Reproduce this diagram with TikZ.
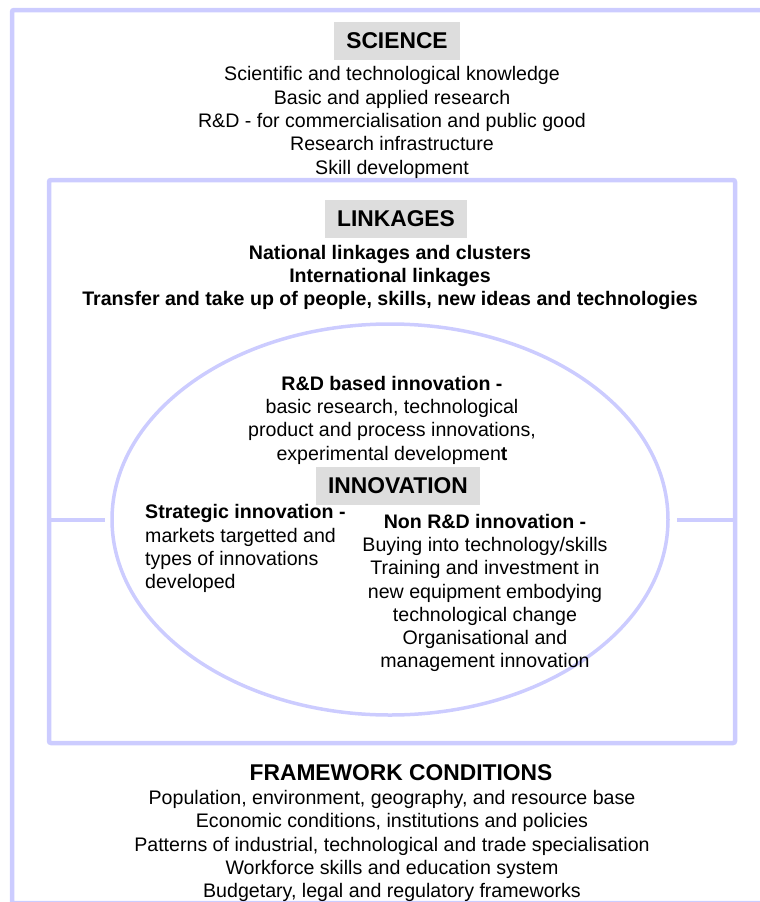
\documentclass[tikz,border=0pt]{standalone}
\usepackage{fontspec}
\setmainfont{Liberation Sans}
\usetikzlibrary{shapes.geometric}
\definecolor{framecol}{RGB}{204,204,255}
\definecolor{hdrgray}{RGB}{221,221,221}
\newcommand\bodyfont{\fontsize{19.6}{23.3}\selectfont}
\newcommand\hdrfont{\fontsize{22.8}{26}\selectfont\bfseries}
\tikzset{
  frameline/.style={draw=framecol, line width=4.5pt, rounded corners=2pt, inner sep=0pt, outer sep=0pt},
  hdrbox/.style={fill=hdrgray, font=\hdrfont, inner xsep=12pt, inner ysep=0pt, minimum height=38pt},
  body/.style={font=\bodyfont, align=center, inner sep=0pt},
  bodybold/.style={font=\bodyfont\bfseries, align=center, inner sep=0pt},
  link/.style={draw=framecol, line width=4pt},
}
\begin{document}
\begin{tikzpicture}[x=1pt,y=-1pt]
\useasboundingbox (0,0) rectangle (760,902);
\clip (0,0) rectangle (760,902);
% frames
\node[frameline, minimum width=753pt, minimum height=893pt] (outer) at (388.5,456.5) {};
\node[frameline, minimum width=686pt, minimum height=563pt] (linkbox) at (392,461.5) {};
\node[draw=framecol, line width=3.5pt, ellipse, minimum width=556pt, minimum height=391pt, inner sep=0pt, outer sep=0pt] (ell) at (390,519.5) {};
% connectors
\draw[link] (linkbox.west |- ell.west) -- ([xshift=-7pt]ell.west);
\draw[link] ([xshift=9pt]ell.east) -- (linkbox.east |- ell.east);
% science
\node[hdrbox] (sci) at (397,41) {SCIENCE};
\node[body] (scitext) at (392,122.5) {Scientific and technological knowledge\\Basic and applied research\\R\&D - for commercialisation and public good\\Research infrastructure\\Skill development};
% linkages
\node[hdrbox] (lnk) at (396,219) {LINKAGES};
\node[bodybold] (lnktext) at (390,277.5) {National linkages and clusters\\International linkages\\Transfer and take up of people, skills, new ideas and technologies};
% innovation
\node[body] (rdtext) at (392,420) {\textbf{R\&D based innovation -}\\basic research, technological\\product and process innovations,\\experimental developmen\textbf{t}};
\node[hdrbox] (inn) at (398,485.5) {INNOVATION};
\node[body, align=left, anchor=west] (strat) at (145,548.75) {\textbf{Strategic innovation -}\\markets targetted and\\types of innovations\\developed};
\node[body] (nonrd) at (485,593) {\textbf{Non R\&D innovation -}\\Buying into technology/skills\\Training and investment in\\new equipment embodying\\technological change\\Organisational and\\management innovation};
% framework
\node[font=\hdrfont, inner sep=0pt] (fw) at (401,773) {FRAMEWORK CONDITIONS};
\node[body] (fwtext) at (392,846) {Population, environment, geography, and resource base\\Economic conditions, institutions and policies\\Patterns of industrial, technological and trade specialisation\\Workforce skills and education system\\Budgetary, legal and regulatory frameworks};
\end{tikzpicture}
\end{document}
